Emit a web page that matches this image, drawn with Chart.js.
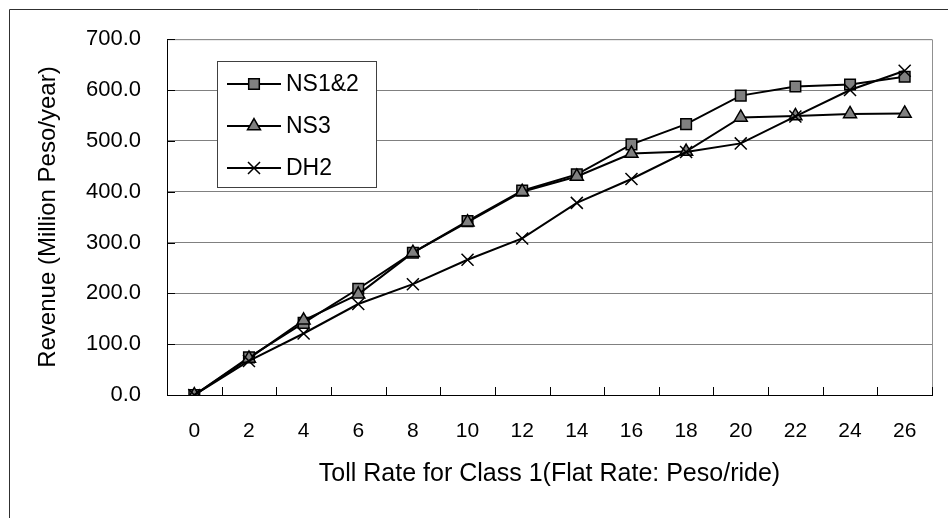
<!DOCTYPE html>
<html>
<head>
<meta charset="utf-8">
<script src="https://cdn.jsdelivr.net/npm/chart.js@4/dist/chart.umd.min.js"></script>
<style>
  html, body { margin: 0; padding: 0; background: #fff; }
  #wrap { width: 948px; height: 518px; }
</style>
</head>
<body>
<div id="wrap"><canvas id="c" width="948" height="518"></canvas></div>
<script>
// Toll rate (Peso/ride) on the x axis, revenue in million Peso/year
const tollRates = ['0', '2', '4', '6', '8', '10', '12', '14', '16', '18', '20', '22', '24', '26'];
const ns12 = [0, 74, 142, 209, 280, 342, 402, 434, 493, 533, 589, 607, 611, 626];
const ns3 = [0, 72, 147, 198, 280, 340, 400, 430, 475, 479, 546, 549, 553, 554];
const dh2 = [0, 67, 121, 179, 218, 266, 308, 378, 425, 478, 495, 548, 600, 638];

const yMin = 0, yMax = 700, yStep = 100;

const FONT = '"Liberation Sans", Arial, sans-serif';

const seriesStyle = [
    { label: 'NS1&2', data: ns12, pointStyle: 'rect', pointRadius: 7.5, order: 2 },
    { label: 'NS3', data: ns3, pointStyle: 'triangle', pointRadius: 7.5, order: 1 },
    { label: 'DH2', data: dh2, pointStyle: 'crossRot', pointRadius: 8.5, order: 0 },
];

// inward tick marks, right/top plot border, legend box and the outer frame
const decor = {
    id: 'decor',
    beforeDatasetsDraw(chart) {
        const { ctx, chartArea: a, scales } = chart;
        ctx.save();
        ctx.strokeStyle = '#909090';
        ctx.lineWidth = 1;
        ctx.beginPath();
        ctx.moveTo(a.left, a.top + 0.5);
        ctx.lineTo(a.right + 0.5, a.top + 0.5);
        ctx.lineTo(a.right + 0.5, a.bottom);
        ctx.stroke();

        ctx.strokeStyle = '#000';
        ctx.beginPath();
        scales.y.ticks.forEach((t) => {
            const y = Math.round(scales.y.getPixelForValue(t.value)) + 0.5;
            ctx.moveTo(a.left, y);
            ctx.lineTo(a.left + 8, y);
        });
        const n = tollRates.length;
        for (let i = 1; i <= n; i++) {
            const x = Math.round(a.left + (a.right - a.left) * i / n) + 0.5;
            ctx.moveTo(x, a.bottom);
            ctx.lineTo(x, a.bottom - 8);
        }
        ctx.stroke();
        ctx.restore();
    },
    afterDatasetsDraw(chart) {
        const { ctx } = chart;
        ctx.save();
        ctx.fillStyle = '#fff';
        ctx.strokeStyle = '#404040';
        ctx.lineWidth = 1;
        ctx.fillRect(217.5, 61.5, 159, 126);
        ctx.strokeRect(217.5, 61.5, 159, 126);
        const rows = [84, 126, 168];
        seriesStyle.forEach((s, i) => {
            const y = rows[i];
            ctx.strokeStyle = '#000';
            ctx.lineWidth = 2;
            ctx.beginPath();
            ctx.moveTo(227, y);
            ctx.lineTo(281, y);
            ctx.stroke();
            ctx.fillStyle = '#808080';
            ctx.lineWidth = 1.5;
            Chart.helpers.drawPoint(ctx, {
                pointStyle: s.pointStyle, radius: s.pointRadius, rotation: 0, borderWidth: 1.5,
            }, 254, y);
            ctx.fillStyle = '#000';
            ctx.font = '23px ' + FONT;
            ctx.textBaseline = 'middle';
            ctx.textAlign = 'left';
            ctx.fillText(s.label, 286, y + 1);
        });
        ctx.restore();
    },
    afterDraw(chart) {
        const { ctx } = chart;
        ctx.save();
        ctx.strokeStyle = '#303030';
        ctx.lineWidth = 1;
        ctx.beginPath();
        ctx.moveTo(9.5, 518);
        ctx.lineTo(9.5, 9.5);
        ctx.lineTo(948, 9.5);
        ctx.stroke();
        ctx.restore();
    },
};

new Chart(document.getElementById('c'), {
    type: 'line',
    data: {
        labels: tollRates,
        datasets: seriesStyle.map((s) => ({
            label: s.label,
            data: s.data,
            order: s.order,
            borderColor: '#000',
            borderWidth: 2,
            backgroundColor: '#808080',
            pointStyle: s.pointStyle,
            pointRadius: s.pointRadius,
            pointBorderWidth: 1.5,
            pointBorderColor: '#000',
            pointBackgroundColor: '#808080',
            tension: 0,
            fill: false,
        })),
    },
    options: {
        responsive: false,
        animation: false,
        layout: { padding: { top: 37, right: 16, left: 0, bottom: 0 } },
        plugins: {
            legend: { display: false },
            tooltip: { enabled: false },
        },
        scales: {
            x: {
                type: 'category',
                offset: true,
                grid: { display: false, drawTicks: false },
                border: { display: true, color: '#000', width: 1 },
                ticks: { color: '#000', font: { family: FONT, size: 21 }, padding: 24, maxRotation: 0, autoSkip: false },
                title: {
                    display: true,
                    text: 'Toll Rate for Class 1(Flat Rate: Peso/ride)',
                    color: '#000',
                    font: { family: FONT, size: 25 },
                    padding: { top: 0, bottom: 29 },
                },
                afterFit: (s) => { s.height = 123; },
            },
            y: {
                min: yMin,
                max: yMax,
                grid: { color: '#808080', lineWidth: 1, drawTicks: false },
                border: { display: true, color: '#000', width: 1 },
                ticks: {
                    stepSize: yStep,
                    color: '#000',
                    font: { family: FONT, size: 22 },
                    padding: 26,
                    callback: (v) => Number(v).toFixed(1),
                },
                title: {
                    display: true,
                    text: 'Revenue (Million Peso/year)',
                    color: '#000',
                    font: { family: FONT, size: 24 },
                    padding: { top: 34, bottom: 0 },
                },
                afterFit: (s) => { s.width = 167; },
            },
        },
    },
    plugins: [decor],
});
</script>
</body>
</html>
